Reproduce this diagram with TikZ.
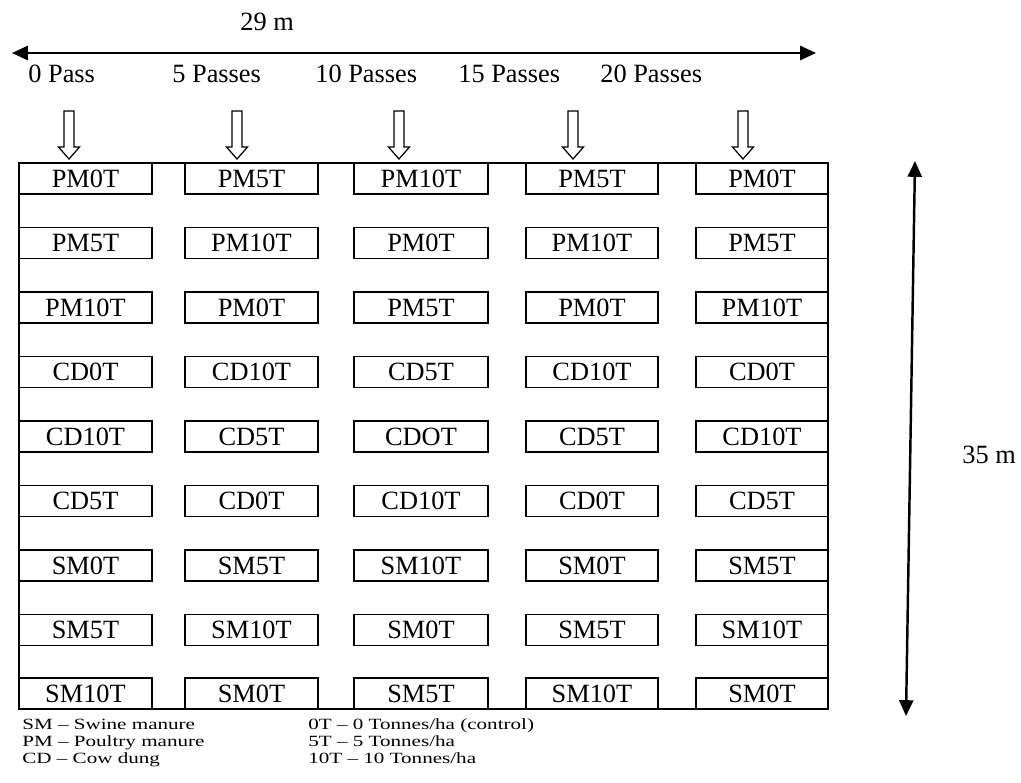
\documentclass[tikz,border=0pt]{standalone}
\usepackage{fontspec}
\usepackage{graphicx}
\setmainfont{Liberation Serif}
\usetikzlibrary{arrows.meta}

% key text is printed squat in the figure
\newcommand{\squat}[1]{\scalebox{1}[0.74]{#1}}

\begin{document}
\begin{tikzpicture}[
    x=0.02cm, y=-0.02cm, % one unit is one pixel of the layout
    >={Triangle[length=9pt, width=8pt]}, % Set default arrow tip style
    frame/.style={line width=1.1pt}, % Style for the field outline
    plot/.style={draw, line width=1.1pt, inner sep=0pt, minimum height=0.62cm,
        font=\fontsize{15}{18}\selectfont}, % Style for the plots
    passtext/.style={anchor=base west, inner sep=0pt, font=\fontsize{15}{18}\selectfont}, % Style for top labels
    legend/.style={anchor=base west, inner sep=0pt,
        font=\fontsize{12}{14}\selectfont}, % Style for the key
    dim/.style={<->, line width=1.4pt}, % Style for the size arrows
    passarrow/.style={draw, line width=0.7pt, fill=white} % Style for the hollow arrows
]

    % Page size
    \useasboundingbox (0,0) rectangle (1021,782);

    % Field outline
    \draw[frame] (19,163) rectangle (828,709);

    % Plots, one row of treatments at a time
    \foreach \row/\labels in {
        1/{PM0T,PM5T,PM10T,PM5T,PM0T},
        2/{PM5T,PM10T,PM0T,PM10T,PM5T},
        3/{PM10T,PM0T,PM5T,PM0T,PM10T},
        4/{CD0T,CD10T,CD5T,CD10T,CD0T},
        5/{CD10T,CD5T,CDOT,CD5T,CD10T},
        6/{CD5T,CD0T,CD10T,CD0T,CD5T},
        7/{SM0T,SM5T,SM10T,SM0T,SM5T},
        8/{SM5T,SM10T,SM0T,SM5T,SM10T},
        9/{SM10T,SM0T,SM5T,SM10T,SM0T}} {
        \foreach \lab [count=\col] in \labels {
            \pgfmathsetmacro\xl{{19,185,354,526,696}[\col-1]}
            \pgfmathsetmacro\xr{{152,318,488,658,828}[\col-1]}
            \pgfmathsetmacro\bw{(\xr-\xl)*0.02}
            \pgfmathsetmacro\yc{min(163+64.5*(\row-1)+15.5, 693.5)}
            \node[plot, minimum width=\bw cm] (box-\row-\col) at ({(\xl+\xr)/2}, \yc) {\lab};
        }
    }

    % Hollow arrows over the columns
    \foreach \x in {69, 237, 399, 573, 743} {
        \draw[passarrow] ({\x-5},111) -- ({\x+5},111) -- ({\x+5},147) -- ({\x+10.5},147)
            -- (\x,159) -- ({\x-10.5},147) -- ({\x-5},147) -- cycle;
    }

    % Width of the field
    \coordinate (wleft) at (12,53);
    \coordinate (wright) at (816,53);
    \draw[dim] (wleft) -- (wright);
    \node[passtext] (width) at (240,30) {29 m};

    % Length of the field
    \coordinate (ltop) at (915,161);
    \coordinate (lbottom) at (906,716);
    \draw[dim] (ltop) -- (lbottom);
    \node[passtext] (length) at (962,463) {35 m};

    % Number of passes
    \node[passtext] (pass0) at (28,82) {0 Pass};
    \node[passtext] (pass5) at (172,82) {5 Passes};
    \node[passtext] (pass10) at (315,82) {10 Passes};
    \node[passtext] (pass15) at (458,82) {15 Passes};
    \node[passtext] (pass20) at (600,82) {20 Passes};

    % Key
    \node[legend] (keysm) at (22,729) {\squat{SM -- Swine manure}};
    \node[legend] (keypm) at (22,746) {\squat{PM -- Poultry manure}};
    \node[legend] (keycd) at (22,763) {\squat{CD -- Cow dung}};
    \node[legend] (key0) at (308,729) {\squat{0T -- 0 Tonnes/ha (control)}};
    \node[legend] (key5) at (308,746) {\squat{5T -- 5 Tonnes/ha}};
    \node[legend] (key10) at (308,763) {\squat{10T -- 10 Tonnes/ha}};

\end{tikzpicture}
\end{document}
